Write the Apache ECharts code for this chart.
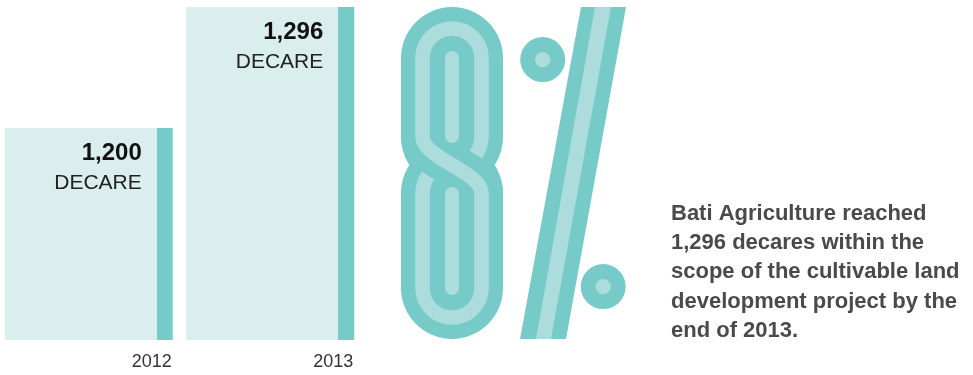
<!DOCTYPE html>
<html><head><meta charset="utf-8">
<script src="https://cdn.jsdelivr.net/npm/echarts@6/dist/echarts.min.js"></script>
<style>html,body{margin:0;padding:0;background:#fff}#c{width:973px;height:375px}</style>
</head><body><div id="c"></div>
<script>
const years = ['2012', '2013'];
const decares = [1200, 1296];
const unitLabel = 'DECARE';
const noteLines = [
  'Bati Agriculture reached',
  '1,296 decares within the',
  'scope of the cultivable land',
  'development project by the',
  'end of 2013.'
];

const DARK = '#76cbc9', LIGHT = '#acdcdb', BARFILL = '#daeeed';
const FONT = '"Liberation Sans", Arial, sans-serif';

const chart = echarts.init(document.getElementById('c'), null, { renderer: 'canvas' });
const barGrad = new echarts.graphic.LinearGradient(0, 0, 1, 0, [
  { offset: 0, color: BARFILL }, { offset: 0.906, color: BARFILL },
  { offset: 0.906, color: DARK }, { offset: 1, color: DARK }
]);

let z = 1;
const g = [];
function add(el) { el.z = 10 + (z++); el.silent = true; g.push(el); }
// "8" outer dark
add({ type: 'rect', shape: { x: 401, y: 7, width: 102, height: 181, r: 51 }, style: { fill: DARK } });
add({ type: 'rect', shape: { x: 401, y: 142, width: 102, height: 197, r: 51 }, style: { fill: DARK } });
// light rings
add({ type: 'rect', shape: { x: 422.5, y: 28.5, width: 59, height: 138, r: 29.5 }, style: { fill: 'none', stroke: LIGHT, lineWidth: 14.5 } });
add({ type: 'rect', shape: { x: 422.5, y: 163.5, width: 59, height: 154, r: 29.5 }, style: { fill: 'none', stroke: LIGHT, lineWidth: 14.5 } });
// S crossing
const S = { x1: 422.5, y1: 137, cpx1: 422.5, cpy1: 158, cpx2: 481.5, cpy2: 172, x2: 481.5, y2: 193 };
add({ type: 'bezierCurve', shape: S, style: { fill: 'none', stroke: DARK, lineWidth: 43 } });
add({ type: 'bezierCurve', shape: S, style: { fill: 'none', stroke: LIGHT, lineWidth: 14.5 } });
// cores
add({ type: 'rect', shape: { x: 445, y: 51, width: 14, height: 92, r: 7 }, style: { fill: LIGHT } });
add({ type: 'rect', shape: { x: 445, y: 187, width: 14, height: 108, r: 7 }, style: { fill: LIGHT } });
// "%" slash
add({ type: 'polygon', shape: { points: [[520, 339], [566, 339], [626, 7], [581, 7]] }, style: { fill: DARK } });
add({ type: 'polygon', shape: { points: [[536, 339], [551, 339], [611, 7], [595, 7]] }, style: { fill: LIGHT } });
// "%" circles
add({ type: 'circle', shape: { cx: 542.7, cy: 59.6, r: 22.5 }, style: { fill: DARK } });
add({ type: 'circle', shape: { cx: 542.7, cy: 59.6, r: 7.7 }, style: { fill: LIGHT } });
add({ type: 'circle', shape: { cx: 603.2, cy: 286.6, r: 22.5 }, style: { fill: DARK } });
add({ type: 'circle', shape: { cx: 603.2, cy: 286.6, r: 7.7 }, style: { fill: LIGHT } });
// note text
add({ type: 'text', x: 671, y: 199, style: { text: noteLines.join('\n'), fontFamily: FONT, fontSize: 22, fontWeight: 'bold', fill: '#4a4a4a', lineHeight: 29.3 } });

chart.setOption({
  animation: false,
  grid: { left: -2, width: 363, top: 7, bottom: 35, outerBoundsMode: 'none', containLabel: false },
  xAxis: {
    type: 'category', data: years,
    axisLine: { show: false }, axisTick: { show: false }, splitLine: { show: false },
    axisLabel: { align: 'right', padding: [0, -83, 0, 0], margin: 13, fontSize: 18, color: '#333', fontFamily: FONT }
  },
  yAxis: { type: 'value', min: 1032, max: 1296, show: false },
  series: [{
    type: 'bar', data: decares, barWidth: 168, silent: true,
    itemStyle: { color: barGrad },
    label: {
      show: true, position: ['100%', 0], align: 'right', verticalAlign: 'top', offset: [-31, 10],
      formatter: p => '{n|' + p.value.toLocaleString('en-US') + '}\n{u|' + unitLabel + '}',
      rich: {
        n: { fontSize: 24, fontWeight: 'bold', color: '#111', lineHeight: 30, fontFamily: FONT, align: 'right' },
        u: { fontSize: 21, color: '#222', lineHeight: 30, fontFamily: FONT, align: 'right' }
      }
    }
  }],
  graphic: { elements: g }
});
</script></body></html>
